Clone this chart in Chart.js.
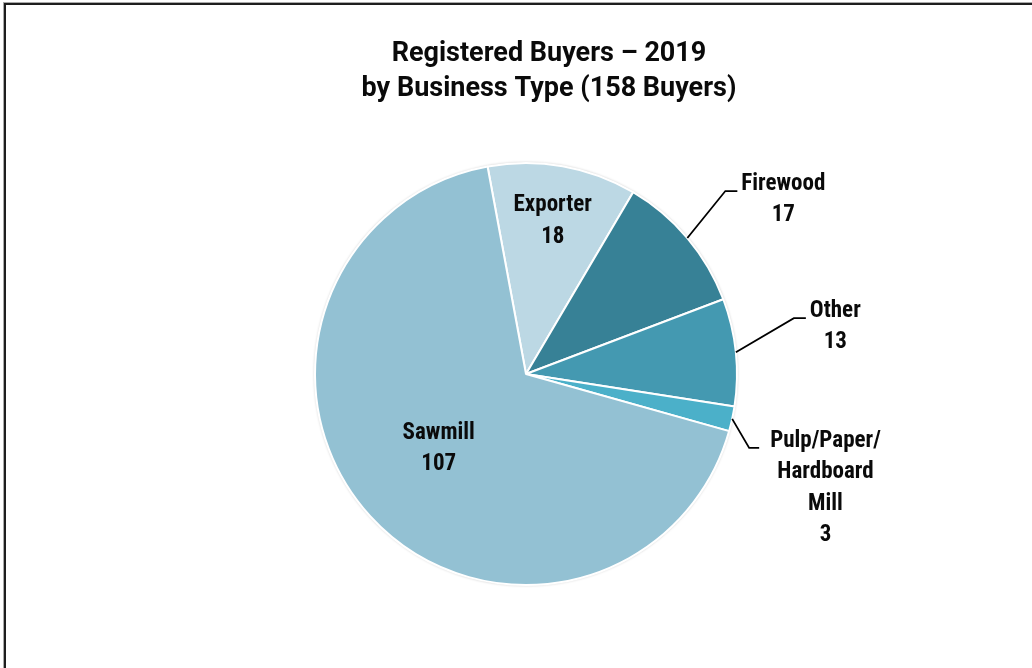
<!DOCTYPE html>
<html>
<head>
<meta charset="utf-8">
<script src="https://cdn.jsdelivr.net/npm/chart.js@4.4.0/dist/chart.umd.min.js"></script>
<style>
body { margin: 0; background: #fff; }
#wrap { position: relative; width: 1032px; height: 668px; overflow: hidden; }
#frame { position: absolute; left: 4px; top: 3px; width: 1100px; height: 700px;
         border-left: 2px solid #1e1e1e; border-top: 2px solid #1e1e1e; box-shadow: -1px -1px 0 #aaa; }
canvas { position: absolute; left: 0; top: 0; }
</style>
</head>
<body>
<div id="wrap">
  <div id="frame"></div>
  <canvas id="pieChart" width="1032" height="668"></canvas>
</div>
<script>
// Chart data
const titleLines = ['Registered Buyers \u2013 2019', 'by Business Type (158 Buyers)'];
const categories = ['Exporter', 'Firewood', 'Other', 'Pulp/Paper/Hardboard Mill', 'Sawmill'];
const labelLines = [['Exporter'], ['Firewood'], ['Other'], ['Pulp/Paper/', 'Hardboard', 'Mill'], ['Sawmill']];
const buyers = [18, 17, 13, 3, 107];
const sliceColors = ['#bcd8e4', '#378196', '#4499b1', '#4bb0c9', '#93c1d3'];

// where each label goes: inside the slice, or outside with a leader line
const labelSpots = [
    { inside: 0.73, dy: -1 },
    { elbow: [38, -47], tail: 12, gap: 4 },
    { elbow: [58, -34], tail: 12, gap: 4 },
    { elbow: [17, 29], tail: 10, gap: 11 },
    { inside: 0.56, dy: -5 }
];

const labelFont = 'bold 23px "Liberation Sans Narrow", "Roboto Condensed", Roboto, sans-serif';
const labelLineHeight = 31.5;

function drawBlock(ctx, lines, cx, firstY) {
    lines.forEach((t, i) => ctx.fillText(t, cx, firstY + i * labelLineHeight));
}

const pieLabels = {
    id: 'pieLabels',
    beforeDatasetsDraw(chart) {
        // faint shadow round the pie
        const arc = chart.getDatasetMeta(0).data[0];
        const ctx = chart.ctx;
        ctx.save();
        ctx.beginPath();
        ctx.arc(arc.x, arc.y, arc.outerRadius, 0, Math.PI * 2);
        ctx.fillStyle = '#fff';
        ctx.shadowColor = 'rgba(0,0,0,0.35)';
        ctx.shadowBlur = 3;
        ctx.fill();
        ctx.restore();
    },
    afterDraw(chart) {
        const ctx = chart.ctx;
        ctx.save();
        // title
        ctx.fillStyle = '#0a0a0a';
        ctx.font = 'bold 27px Roboto, sans-serif';
        ctx.textAlign = 'center';
        ctx.textBaseline = 'middle';
        ctx.fillText(titleLines[0], 549, 54);
        ctx.fillText(titleLines[1], 549, 89);

        ctx.font = labelFont;
        chart.getDatasetMeta(0).data.forEach((arc, i) => {
            const lines = labelLines[i].concat([String(buyers[i])]);
            const spot = labelSpots[i];
            const mid = (arc.startAngle + arc.endAngle) / 2;
            if (spot.inside) {
                const r = arc.outerRadius * spot.inside;
                const px = arc.x + r * Math.cos(mid);
                const py = arc.y + r * Math.sin(mid) + spot.dy;
                drawBlock(ctx, lines, px, py - (lines.length - 1) * labelLineHeight / 2);
            } else {
                const ex = arc.x + arc.outerRadius * Math.cos(mid);
                const ey = arc.y + arc.outerRadius * Math.sin(mid);
                const bx = ex + spot.elbow[0];
                const by = ey + spot.elbow[1];
                const tx = bx + spot.tail;
                ctx.beginPath();
                ctx.moveTo(ex, ey);
                ctx.lineTo(bx, by);
                ctx.lineTo(tx, by);
                ctx.strokeStyle = '#000';
                ctx.lineWidth = 1.8;
                ctx.stroke();
                const w = Math.max(...lines.map(t => ctx.measureText(t).width));
                drawBlock(ctx, lines, tx + spot.gap + w / 2, by - 7);
            }
        });
        ctx.restore();
    }
};

const ctx = document.getElementById('pieChart').getContext('2d');
const pieChart = new Chart(ctx, {
    type: 'pie',
    data: {
        labels: categories,
        datasets: [{
            data: buyers,
            backgroundColor: sliceColors,
            borderColor: '#fff',
            borderWidth: 2
        }]
    },
    options: {
        responsive: false,
        animation: false,
        rotation: -10.5,
        radius: 211,
        layout: { padding: { left: 20, right: 0, top: 100, bottom: 20 } },
        plugins: {
            legend: { display: false },
            title: { display: false },
            tooltip: { enabled: false }
        }
    },
    plugins: [pieLabels]
});
</script>
</body>
</html>
